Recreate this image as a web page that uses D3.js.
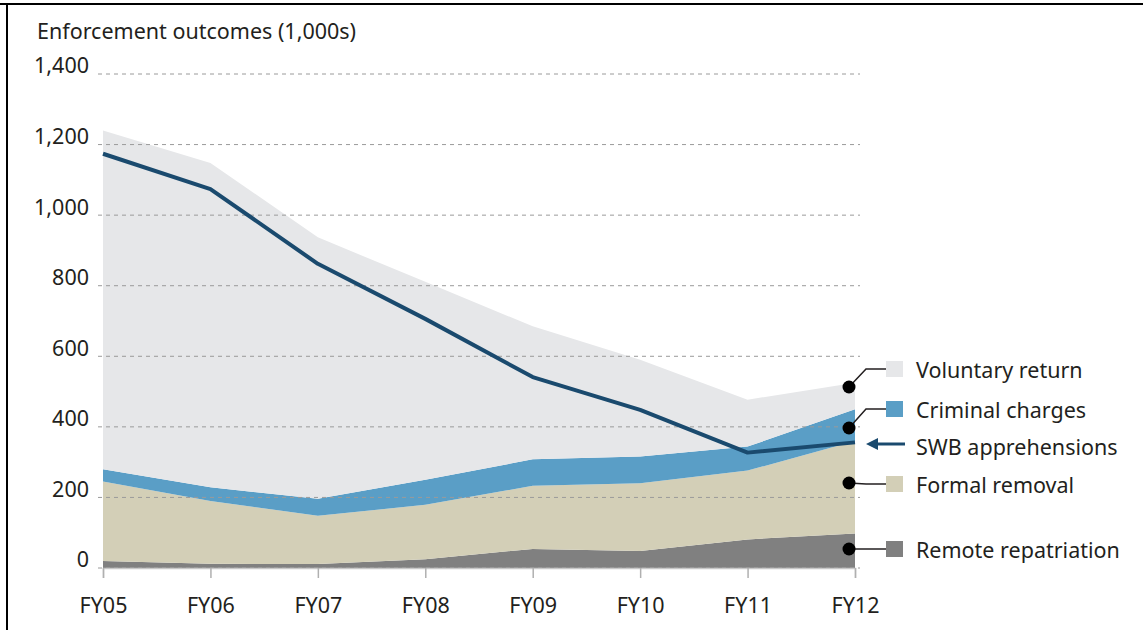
<!DOCTYPE html>
<html>
<head>
<meta charset="utf-8">
<script src="https://cdn.jsdelivr.net/npm/d3@7"></script>
<style>
  body { margin: 0; background: #fff; }
  text { font-family: "Noto Sans", "Open Sans", sans-serif; fill: #231f20; }
</style>
</head>
<body>
<div id="chart"></div>
<script>
// Data (thousands)
var years = ["FY05", "FY06", "FY07", "FY08", "FY09", "FY10", "FY11", "FY12"];
var remoteRepatriation = [20, 12, 11, 25, 54, 48, 81, 98];
var formalRemoval = [225, 178, 137, 154, 179, 192, 195, 262];
var criminalCharges = [35, 39, 48, 71, 75, 76, 68, 90];
var voluntaryReturn = [960, 919, 741, 561, 377, 274, 133, 75];
var swbApprehensions = [1174, 1074, 862, 706, 541, 448, 327, 356];
var yTicks = [0, 200, 400, 600, 800, 1000, 1200, 1400];

var svgWidth = 1143;
var svgHeight = 630;
var fontSize = 21.5;

var margin = { top: 74, right: 288, bottom: 62, left: 103 };
var width = svgWidth - margin.left - margin.right;
var height = svgHeight - margin.top - margin.bottom;

var svg = d3
  .select("#chart")
  .append("svg")
  .attr("width", svgWidth)
  .attr("height", svgHeight);

// frame lines (top and left)
svg.append("rect").attr("x", 0).attr("y", 3).attr("width", svgWidth).attr("height", 2).attr("fill", "#000");
svg.append("rect").attr("x", 6).attr("y", 3).attr("width", 2).attr("height", svgHeight).attr("fill", "#000");

var chartGroup = svg
  .append("g")
  .attr("transform", `translate(${margin.left}, ${margin.top})`);

var xScale = d3.scalePoint().domain(years).range([0, width]);
var yScale = d3.scaleLinear().domain([0, 1400]).range([height, 0]);

// stacked table
var table = years.map(function(y, i) {
  return {
    year: y,
    remote: remoteRepatriation[i],
    formal: formalRemoval[i],
    criminal: criminalCharges[i],
    voluntary: voluntaryReturn[i]
  };
});
var keys = ["remote", "formal", "criminal", "voluntary"];
var colors = {
  remote: "#808080",
  formal: "#d3cfb7",
  criminal: "#5a9ec6",
  voluntary: "#e6e7e9"
};
var series = d3.stack().keys(keys)(table);

var area = d3
  .area()
  .x(d => xScale(d.data.year))
  .y0(d => yScale(d[0]))
  .y1(d => yScale(d[1]));

chartGroup
  .selectAll("path.area")
  .data(series)
  .enter()
  .append("path")
  .attr("class", "area")
  .attr("fill", d => colors[d.key])
  .attr("d", area);

// gridlines
chartGroup
  .selectAll("line.grid")
  .data(yTicks)
  .enter()
  .append("line")
  .attr("class", "grid")
  .attr("x1", -5)
  .attr("x2", width + 5)
  .attr("y1", d => yScale(d))
  .attr("y2", d => yScale(d))
  .attr("stroke", "#9a9a9a")
  .attr("stroke-width", 1)
  .attr("stroke-dasharray", "4,4");

// x axis
var bottomAxis = d3.axisBottom(xScale).tickSize(10).tickPadding(20);
var xAxis = chartGroup
  .append("g")
  .attr("transform", `translate(0, ${height})`)
  .call(bottomAxis);
xAxis.select(".domain").attr("stroke", "#c8c8c8").attr("stroke-width", 1.5);
xAxis.selectAll(".tick line").attr("stroke", "#b0b0b0").attr("stroke-width", 1.5);
xAxis.selectAll(".tick text")
  .attr("font-size", fontSize)
  .attr("font-family", "Noto Sans")
  .attr("fill", "#231f20");

// y axis labels
var leftAxis = d3.axisLeft(yScale).tickValues(yTicks).tickSize(0).tickPadding(14).tickFormat(d3.format(","));
var yAxis = chartGroup.append("g").call(leftAxis);
yAxis.select(".domain").remove();
yAxis.selectAll(".tick text")
  .attr("font-size", fontSize)
  .attr("font-family", "Noto Sans")
  .attr("fill", "#231f20")
  .attr("dy", "-0.05em");

// SWB apprehensions line
var line = d3
  .line()
  .x((d, i) => xScale(years[i]))
  .y(d => yScale(d));

chartGroup
  .append("path")
  .datum(swbApprehensions)
  .attr("fill", "none")
  .attr("stroke", "#1a4a6e")
  .attr("stroke-width", 4)
  .attr("stroke-linejoin", "round")
  .attr("d", line);

// title
svg
  .append("text")
  .attr("x", 37)
  .attr("y", 39)
  .attr("font-size", fontSize)
  .text("Enforcement outcomes (1,000s)");

// legend
var legendItems = [
  { label: "Voluntary return", color: colors.voluntary, dotY: 387, textY: 370, kind: "area" },
  { label: "Criminal charges", color: colors.criminal, dotY: 428, textY: 410, kind: "area" },
  { label: "SWB apprehensions", color: "#1a4a6e", dotY: null, textY: 447, kind: "line" },
  { label: "Formal removal", color: colors.formal, dotY: 483, textY: 485, kind: "area" },
  { label: "Remote repatriation", color: colors.remote, dotY: 549, textY: 550, kind: "area" }
];

var legend = svg.append("g");
var dotX = 849;
var swX = 886;

legendItems.forEach(function(item) {
  if (item.kind === "area") {
    var bendX = 866;
    legend
      .append("polyline")
      .attr("points", `${dotX},${item.dotY} ${bendX},${item.textY - 1} ${swX},${item.textY - 1}`)
      .attr("fill", "none")
      .attr("stroke", "#231f20")
      .attr("stroke-width", 1.5);
    legend
      .append("circle")
      .attr("cx", dotX)
      .attr("cy", item.dotY)
      .attr("r", 6.5)
      .attr("fill", "#000");
    legend
      .append("rect")
      .attr("x", swX)
      .attr("y", item.textY - 9)
      .attr("width", 17)
      .attr("height", 16)
      .attr("fill", item.color);
  } else {
    legend
      .append("line")
      .attr("x1", 875)
      .attr("x2", 905)
      .attr("y1", item.textY - 3)
      .attr("y2", item.textY - 3)
      .attr("stroke", item.color)
      .attr("stroke-width", 3);
    legend
      .append("path")
      .attr("d", `M866,${item.textY - 3} L878,${item.textY - 9} L878,${item.textY + 3} Z`)
      .attr("fill", item.color);
  }
  legend
    .append("text")
    .attr("x", 916)
    .attr("y", item.textY)
    .attr("dy", "0.35em")
    .attr("font-size", fontSize)
    .text(item.label);
});
</script>
</body>
</html>
